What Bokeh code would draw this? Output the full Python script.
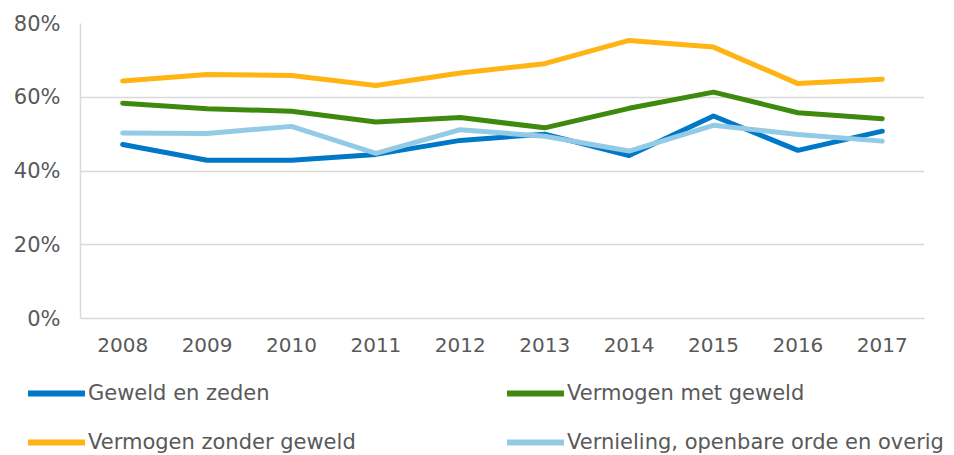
from bokeh.plotting import figure
from bokeh.layouts import column
from bokeh.models import Range1d, FactorRange, PrintfTickFormatter, Legend, LegendItem, FixedTicker
from bokeh.embed import file_html
from bokeh.resources import INLINE

years = ["2008", "2009", "2010", "2011", "2012", "2013", "2014", "2015", "2016", "2017"]
geweld_en_zeden = [47.2, 42.9, 42.9, 44.5, 48.3, 50.0, 44.2, 54.9, 45.6, 50.8]
vermogen_met_geweld = [58.4, 56.9, 56.2, 53.3, 54.5, 51.7, 57.0, 61.4, 55.8, 54.2]
vermogen_zonder_geweld = [64.4, 66.2, 65.9, 63.2, 66.6, 69.1, 75.4, 73.6, 63.7, 64.9]
vernieling_overig = [50.3, 50.2, 52.1, 44.8, 51.2, 49.4, 45.4, 52.4, 49.9, 48.1]
names = ["Geweld en zeden", "Vermogen met geweld", "Vermogen zonder geweld",
         "Vernieling, openbare orde en overig"]
y_ticks = [0, 20, 40, 60, 80]

colors = ["#0078C8", "#3E8A0E", "#FFB414", "#93CBE6"]
FONT = "DejaVu Sans"
GREY = "#595959"

p = figure(width=954, height=360, x_range=FactorRange(*years, range_padding=0),
           y_range=Range1d(0, 80), output_backend="svg", toolbar_location=None,
           min_border_left=80, min_border_right=30, min_border_top=23, min_border_bottom=42)
p.frame_align = False
p.outline_line_color = None
p.xgrid.grid_line_color = None
p.ygrid.grid_line_color = "#D9D9D9"
p.ygrid.grid_line_width = 1.5
p.yaxis.ticker = FixedTicker(ticks=y_ticks)
p.yaxis.formatter = PrintfTickFormatter(format="%d%%")

for ax in (p.xaxis[0], p.yaxis[0]):
    ax.axis_line_color = "#D9D9D9"
    ax.axis_line_width = 1.5
    ax.major_tick_line_color = None
    ax.minor_tick_line_color = None
    ax.major_tick_in = 0
    ax.major_tick_out = 0
    ax.major_label_text_font = FONT
    ax.major_label_text_font_size = "20px"
    ax.major_label_text_color = GREY
p.yaxis.major_label_text_font_size = "21px"
p.yaxis.major_label_standoff = 20
p.xaxis.major_label_standoff = 19

series = [geweld_en_zeden, vermogen_met_geweld, vermogen_zonder_geweld, vernieling_overig]
for vals, c in zip(series, colors):
    p.line(years, vals, line_color=c, line_width=5, line_cap="round", line_join="round")

# legend figure below the chart
lg = figure(width=954, height=95, x_range=FactorRange(*years), y_range=Range1d(0, 80),
            output_backend="svg", toolbar_location=None, x_axis_type=None, y_axis_type=None,
            min_border_left=0, min_border_right=0, min_border_top=0, min_border_bottom=0)
lg.frame_align = False
lg.outline_line_color = None
lg.grid.visible = False
leg_renderers = []
for vals, c in zip(series, colors):
    r = lg.line(years, vals, line_color=c, line_width=6, line_cap="round", visible=False)
    leg_renderers.append(r)

legend = Legend(items=[LegendItem(label=n, renderers=[r]) for n, r in zip(names, leg_renderers)],
                location=(28, 1), orientation="horizontal", ncols=2,
                glyph_width=57, glyph_height=20, label_height=20, label_width=394,
                label_standoff=3, spacing=25, padding=0, margin=0,
                border_line_color=None, background_fill_alpha=0,
                label_text_font=FONT, label_text_font_size="21px", label_text_color=GREY)
lg.add_layout(legend, "center")

layout = column(p, lg, spacing=0)
open("out.html", "w").write(file_html(layout, INLINE))
